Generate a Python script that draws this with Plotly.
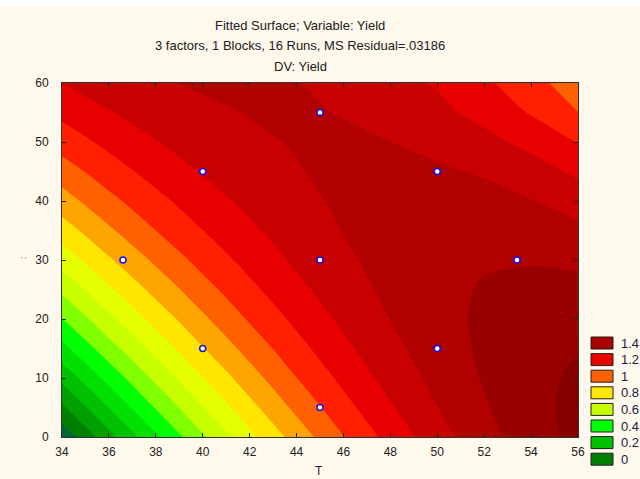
import plotly.graph_objects as go

# ---- data ----
T_values = [34, 36, 38, 40, 42, 44, 46, 48, 50, 52, 54, 56]
P_values = [0, 5, 10, 15, 20, 25, 30, 35, 40, 45, 50, 55, 60]

yield_row_0 = [-0.070, 0.165, 0.383, 0.586, 0.772, 0.943, 1.097, 1.236, 1.358, 1.465, 1.555, 1.630]
yield_row_5 = [0.083, 0.303, 0.508, 0.696, 0.869, 1.025, 1.166, 1.290, 1.399, 1.491, 1.568, 1.628]
yield_row_10 = [0.228, 0.434, 0.625, 0.799, 0.957, 1.099, 1.226, 1.336, 1.430, 1.508, 1.571, 1.617]
yield_row_15 = [0.367, 0.559, 0.734, 0.894, 1.038, 1.166, 1.278, 1.373, 1.453, 1.517, 1.565, 1.597]
yield_row_20 = [0.498, 0.676, 0.837, 0.982, 1.111, 1.224, 1.321, 1.402, 1.468, 1.517, 1.550, 1.567]
yield_row_25 = [0.623, 0.785, 0.932, 1.062, 1.176, 1.275, 1.357, 1.423, 1.473, 1.508, 1.526, 1.528]
yield_row_30 = [0.741, 0.888, 1.019, 1.135, 1.234, 1.317, 1.384, 1.435, 1.471, 1.490, 1.493, 1.480]
yield_row_35 = [0.852, 0.984, 1.100, 1.199, 1.283, 1.351, 1.403, 1.439, 1.459, 1.463, 1.451, 1.423]
yield_row_40 = [0.956, 1.072, 1.172, 1.257, 1.325, 1.378, 1.414, 1.434, 1.442, 1.432, 1.404, 1.356]
yield_row_45 = [1.053, 1.153, 1.238, 1.307, 1.359, 1.396, 1.417, 1.423, 1.414, 1.390, 1.345, 1.280]
yield_row_50 = [1.143, 1.227, 1.296, 1.349, 1.386, 1.406, 1.411, 1.400, 1.373, 1.330, 1.270, 1.195]
yield_row_55 = [1.226, 1.294, 1.347, 1.383, 1.404, 1.409, 1.397, 1.370, 1.327, 1.267, 1.192, 1.101]
yield_row_60 = [1.302, 1.354, 1.390, 1.411, 1.415, 1.403, 1.375, 1.332, 1.290, 1.220, 1.135, 1.045]

yield_grid = [yield_row_0, yield_row_5, yield_row_10, yield_row_15, yield_row_20,
              yield_row_25, yield_row_30, yield_row_35, yield_row_40, yield_row_45,
              yield_row_50, yield_row_55, yield_row_60]

design_T = [45, 40, 50, 36.6, 45, 53.4, 40, 50, 45]
design_P = [55, 45, 45, 30, 30, 30, 15, 15, 5]

level_start, level_end, level_step = 0.0, 1.6, 0.1
band_colors = ["#006838", "#008000", "#00A000", "#00C000", "#00E000", "#00FF00",
               "#80FF00", "#C8FF00", "#E6FF00", "#FFE600", "#FFA500", "#FF6000",
               "#FF2000", "#E80000", "#C80000", "#B00000", "#990000", "#870000"]

legend_labels = ["1.4", "1.2", "1", "0.8", "0.6", "0.4", "0.2", "0"]
legend_colors = ["#A80000", "#E80000", "#FF6000", "#FFE600", "#C8FF00", "#00FF00", "#00C000", "#008000"]

x_ticks = [34, 36, 38, 40, 42, 44, 46, 48, 50, 52, 54, 56]
y_ticks = [0, 10, 20, 30, 40, 50, 60]

title_lines = ["Fitted Surface; Variable: Yield",
               "3 factors, 1 Blocks, 16 Runs, MS Residual=.03186",
               "DV: Yield"]

# ---- step colorscale so each band has a flat colour ----
n = len(band_colors) - 1
colorscale = []
for k, c in enumerate(band_colors):
    lo = max(0.0, (k - 0.5) / n)
    hi = min(1.0, (k + 0.5) / n)
    colorscale.append([lo, c])
    colorscale.append([hi, c])

W, H = 640, 479
L, R, T, B = 62, 62, 83, 42
pw, ph = W - L - R, H - T - B


def px_x(p):
    return (p - L) / pw


def px_y(p):
    return (H - B - p) / ph


FONT = "Liberation Sans, Arial, sans-serif"

fig = go.Figure()
fig.add_trace(go.Contour(
    x=T_values, y=P_values, z=yield_grid,
    autocontour=False,
    contours=dict(start=level_start, end=level_end, size=level_step,
                  coloring="fill", showlines=False),
    colorscale=colorscale, showscale=False,
    line=dict(width=0, smoothing=1),
    hoverinfo="skip",
))
fig.add_trace(go.Scatter(
    x=design_T, y=design_P, mode="markers",
    marker=dict(symbol="circle", size=6, color="white",
                line=dict(color="#1010F0", width=1.5)),
    hoverinfo="skip", showlegend=False,
))

shapes = [dict(type="rect", xref="paper", yref="paper",
               x0=px_x(0), x1=px_x(W), y0=px_y(6), y1=px_y(0),
               fillcolor="#FFFFFF", line=dict(width=0), layer="below")]
annotations = []
for i, (lab, col) in enumerate(zip(legend_labels, legend_colors)):
    cy = 343 + i * 16.6
    shapes.append(dict(type="rect", xref="paper", yref="paper",
                       x0=px_x(591), x1=px_x(613), y0=px_y(cy + 6), y1=px_y(cy - 6),
                       fillcolor=col, line=dict(color="#202020", width=1)))
    annotations.append(dict(xref="paper", yref="paper", x=px_x(619), y=px_y(cy),
                            xanchor="left", yanchor="middle", text=lab, showarrow=False,
                            font=dict(family=FONT, size=13, color="#202040")))

for i, line in enumerate(title_lines):
    annotations.append(dict(xref="paper", yref="paper", x=px_x(300), y=px_y(25 + i * 20.5),
                            xanchor="center", yanchor="middle", text=line, showarrow=False,
                            font=dict(family=FONT, size=13, color="#202020")))

# axis titles
annotations.append(dict(xref="paper", yref="paper", x=px_x(319), y=px_y(471),
                        xanchor="center", yanchor="middle", text="T",
                        showarrow=False, font=dict(family=FONT, size=12, color="#202040")))
annotations.append(dict(xref="paper", yref="paper", x=px_x(23), y=px_y(258),
                        xanchor="center", yanchor="middle", text=":", textangle=-90,
                        showarrow=False, font=dict(family=FONT, size=9, color="#4a70c0")))

fig.update_layout(
    width=W, height=H,
    margin=dict(l=L, r=R, t=T, b=B, pad=0, autoexpand=False),
    paper_bgcolor="#FFF8EC", plot_bgcolor="#FFF8EC",
    showlegend=False,
    shapes=shapes, annotations=annotations,
    font=dict(family=FONT, size=12, color="#202020"),
)
fig.update_xaxes(range=[34, 56], tickvals=x_ticks, ticks="inside", ticklen=4,
                 tickcolor="#202020", showline=True, linecolor="#303030", linewidth=1,
                 mirror="ticks", showgrid=False, zeroline=False, automargin=False,
                 ticklabelstandoff=4,
                 tickfont=dict(family=FONT, size=12, color="#202020"))
fig.update_yaxes(range=[0, 60], tickvals=y_ticks, ticks="inside", ticklen=4,
                 tickcolor="#202020", showline=True, linecolor="#303030", linewidth=1,
                 mirror="ticks", showgrid=False, zeroline=False, automargin=False,
                 ticklabelstandoff=10,
                 tickfont=dict(family=FONT, size=12, color="#202020"))

fig.write_html("out.html", config={"displayModeBar": False},
               post_script="document.body.style.margin='0px';")
